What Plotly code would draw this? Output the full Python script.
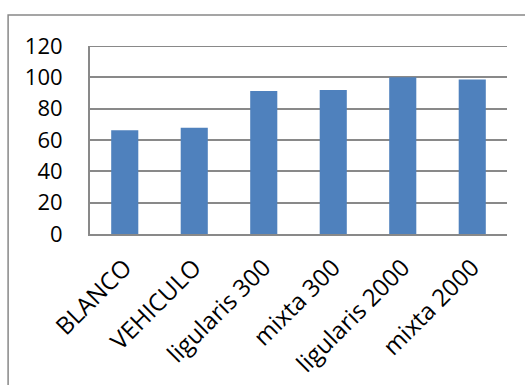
import plotly.graph_objects as go

categories = ["BLANCO", "VEHICULO", "ligularis 300", "mixta 300", "ligularis 2000", "mixta 2000"]
values = [66.3, 67.8, 91.2, 91.9, 100.0, 98.6]
y_ticks = [0, 20, 40, 60, 80, 100, 120]

L, R, T, B = 90, 17.5, 46, 151
W, H = 525, 385
pw, ph = W - L - R, H - T - B

fig = go.Figure(go.Bar(x=categories, y=values, marker=dict(color="#4F81BD", line=dict(width=0)), width=0.39))

yfont = dict(family="Open Sans", size=22, color="#000000")
xfont = dict(family="Open Sans", size=24, color="#000000")

grid_color = "#898989"
fig.update_layout(
    width=W, height=H,
    margin=dict(l=L, r=R, t=T, b=B, autoexpand=False),
    paper_bgcolor="white", plot_bgcolor="white",
    showlegend=False,
    font=yfont,
    xaxis=dict(tickangle=-45, showgrid=False, showline=True, linecolor=grid_color, linewidth=2,
               ticks="", tickfont=xfont, ticklabelstandoff=8),
    yaxis=dict(range=[0, max(y_ticks)], tickvals=y_ticks, showgrid=True, gridcolor=grid_color, gridwidth=2,
               showline=True, linecolor=grid_color, linewidth=2, zeroline=False, ticks="",
               ticklabelstandoff=21, tickfont=yfont),
    shapes=[
        dict(type="rect", xref="paper", yref="paper",
             x0=(8 - L) / pw, x1=1.2, y0=-1.0, y1=(H - B - 15) / ph,
             line=dict(color="#888888", width=1.5), layer="below"),
        dict(type="line", xref="paper", yref="y", x0=0, x1=1, y0=max(y_ticks), y1=max(y_ticks),
             line=dict(color=grid_color, width=2), layer="below"),
    ],
)

fig.write_html("out.html")
